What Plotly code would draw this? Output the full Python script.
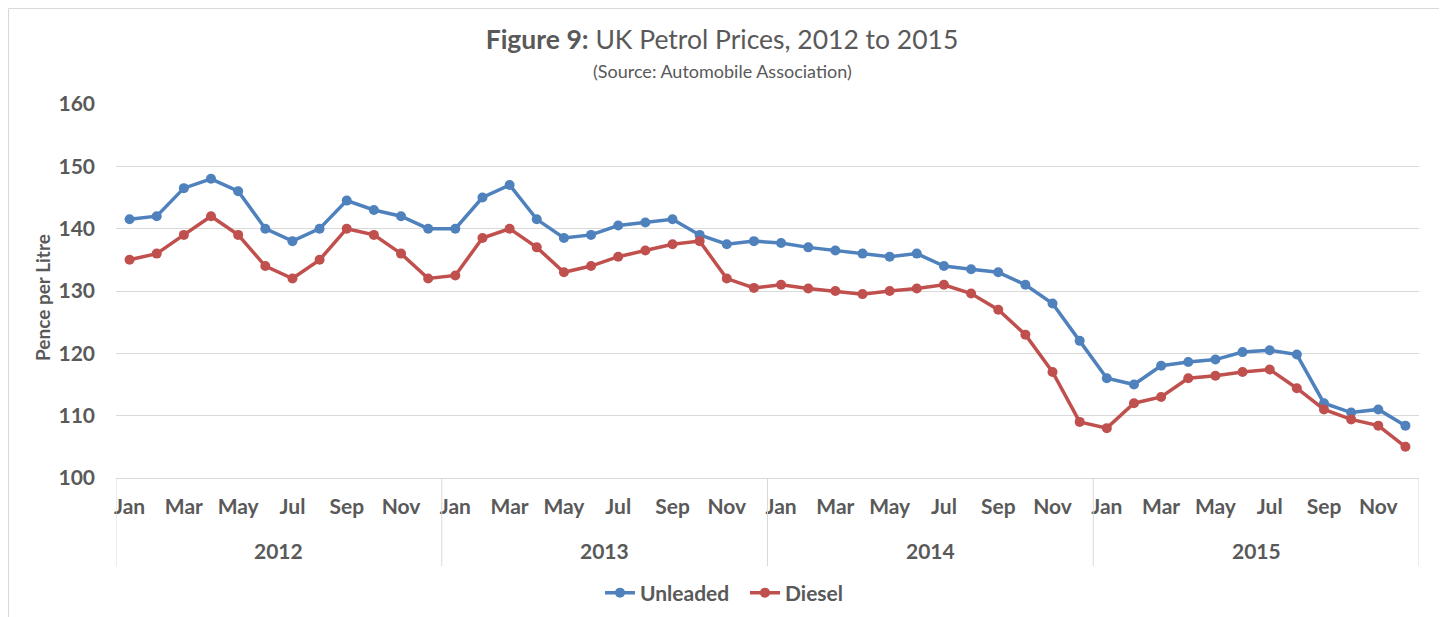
import plotly.graph_objects as go

months = ["Jan", "Feb", "Mar", "Apr", "May", "Jun", "Jul", "Aug", "Sep", "Oct", "Nov", "Dec"]
years = ["2012", "2013", "2014", "2015"]

unleaded = [
    141.5, 142.0, 146.5, 148.0, 146.0, 140.0, 138.0, 140.0, 144.5, 143.0, 142.0, 140.0,
    140.0, 145.0, 147.0, 141.5, 138.5, 139.0, 140.5, 141.0, 141.5, 139.0, 137.5, 138.0,
    137.7, 137.0, 136.5, 136.0, 135.5, 136.0, 134.0, 133.5, 133.0, 131.0, 128.0, 122.0,
    116.0, 115.0, 118.0, 118.6, 119.0, 120.2, 120.5, 119.8, 112.0, 110.5, 111.0, 108.4,
]
diesel = [
    135.0, 136.0, 139.0, 142.0, 139.0, 134.0, 132.0, 135.0, 140.0, 139.0, 136.0, 132.0,
    132.5, 138.5, 140.0, 137.0, 133.0, 134.0, 135.5, 136.5, 137.5, 138.0, 132.0, 130.5,
    131.0, 130.4, 130.0, 129.5, 130.0, 130.4, 131.0, 129.6, 127.0, 123.0, 117.0, 109.0,
    108.0, 112.0, 113.0, 116.0, 116.4, 117.0, 117.4, 114.4, 111.0, 109.4, 108.4, 105.0,
]
y_ticks = [100, 110, 120, 130, 140, 150, 160]

x_idx = list(range(len(unleaded)))
tick_idx = [i for i in x_idx if i % 2 == 0]
tick_txt = [months[i % 12] for i in tick_idx]

FONT = "Lato, 'Open Sans', sans-serif"
TXT = "#595959"
GRID = "#d9d9d9"
BLUE = "#4F81BD"
RED = "#C0504D"

fig = go.Figure()
fig.add_trace(go.Scatter(
    x=x_idx, y=unleaded, name="<b>Unleaded</b>", mode="lines+markers",
    line=dict(color=BLUE, width=3.5), marker=dict(color=BLUE, size=10),
))
fig.add_trace(go.Scatter(
    x=x_idx, y=diesel, name="<b>Diesel</b>", mode="lines+markers",
    line=dict(color=RED, width=3.5), marker=dict(color=RED, size=10),
))

# the page body adds an 8px offset; size the figure to fill the rest of the window
OFF = 8
W, H = 1447 - OFF, 617 - OFF
# plot area in window pixels: left 116, right 1419, top 104, bottom 478
L, R, T, B = 116 - OFF, 1447 - 1419, 104 - OFF, 617 - 478
plot_w = W - L - R
plot_h = H - T - B


def py(ypix):
    return (478 - ypix) / plot_h


def px_(xpix):
    return (xpix - 116) / plot_w


shapes = []
for k in range(len(years) + 1):
    xv = k * 12 - 0.5
    shapes.append(dict(type="line", xref="x", yref="paper", x0=xv, x1=xv,
                       y0=0, y1=py(566), line=dict(color=GRID, width=1)))
# outer chart border (left, top, right edges)
bx0, bx1, by0, by1 = px_(8.5), px_(1440), py(617), py(8.5)
for (a0, b0, a1, b1) in [(bx0, by0, bx0, by1), (bx0, by1, bx1, by1), (bx1, by1, bx1, by0)]:
    shapes.append(dict(type="line", xref="paper", yref="paper",
                       x0=a0, y0=b0, x1=a1, y1=b1,
                       line=dict(color=GRID, width=1.2), layer="above"))

annotations = []
for k, yr in enumerate(years):
    annotations.append(dict(x=k * 12 + 5.5, y=py(550), xref="x", yref="paper",
                            text="<b>%s</b>" % yr, showarrow=False,
                            font=dict(family=FONT, size=21, color=TXT),
                            xanchor="center", yanchor="middle"))
annotations.append(dict(x=px_(722), y=py(71), xref="paper", yref="paper",
                        text="(Source: Automobile Association)", showarrow=False,
                        font=dict(family=FONT, size=18, color=TXT),
                        xanchor="center", yanchor="middle"))
annotations.append(dict(x=px_(42), y=py(298), xref="paper", yref="paper",
                        text="<b>Pence per Litre</b>", showarrow=False, textangle=-90,
                        font=dict(family=FONT, size=19, color=TXT),
                        xanchor="center", yanchor="middle"))

fig.update_layout(
    width=W, height=H,
    margin=dict(l=L, r=R, t=T, b=B, autoexpand=False),
    paper_bgcolor="white", plot_bgcolor="white",
    title=dict(text="<b>Figure 9:</b> UK Petrol Prices, 2012 to 2015",
               x=px_(722), xref="paper", xanchor="center",
               y=1 - (40 - OFF) / H, yanchor="middle",
               font=dict(family=FONT, size=26.5, color=TXT)),
    showlegend=True,
    legend=dict(orientation="h", x=px_(600), xanchor="left", xref="paper",
                y=py(593), yanchor="middle",
                font=dict(family=FONT, size=21, color=TXT),
                traceorder="normal", itemwidth=30, entrywidth=100),
    shapes=shapes,
    annotations=annotations,
    xaxis=dict(range=[-0.5, 47.5], tickmode="array", tickvals=tick_idx,
               ticktext=["<b>%s</b>" % t for t in tick_txt],
               showgrid=False, zeroline=False, automargin=False,
               showline=True, linecolor=GRID, linewidth=1, ticks="",
               tickfont=dict(family=FONT, size=21, color=TXT), ticklabelstandoff=10,
               fixedrange=True),
    yaxis=dict(range=[100, 160], tickmode="array", tickvals=y_ticks,
               ticktext=["<b>%d</b>" % v for v in y_ticks],
               showgrid=True, gridcolor=GRID, gridwidth=1, zeroline=False,
               showline=False, ticks="", automargin=False,
               tickfont=dict(family=FONT, size=21, color=TXT), ticklabelstandoff=20,
               fixedrange=True),
)

fig.write_html("out.html")
